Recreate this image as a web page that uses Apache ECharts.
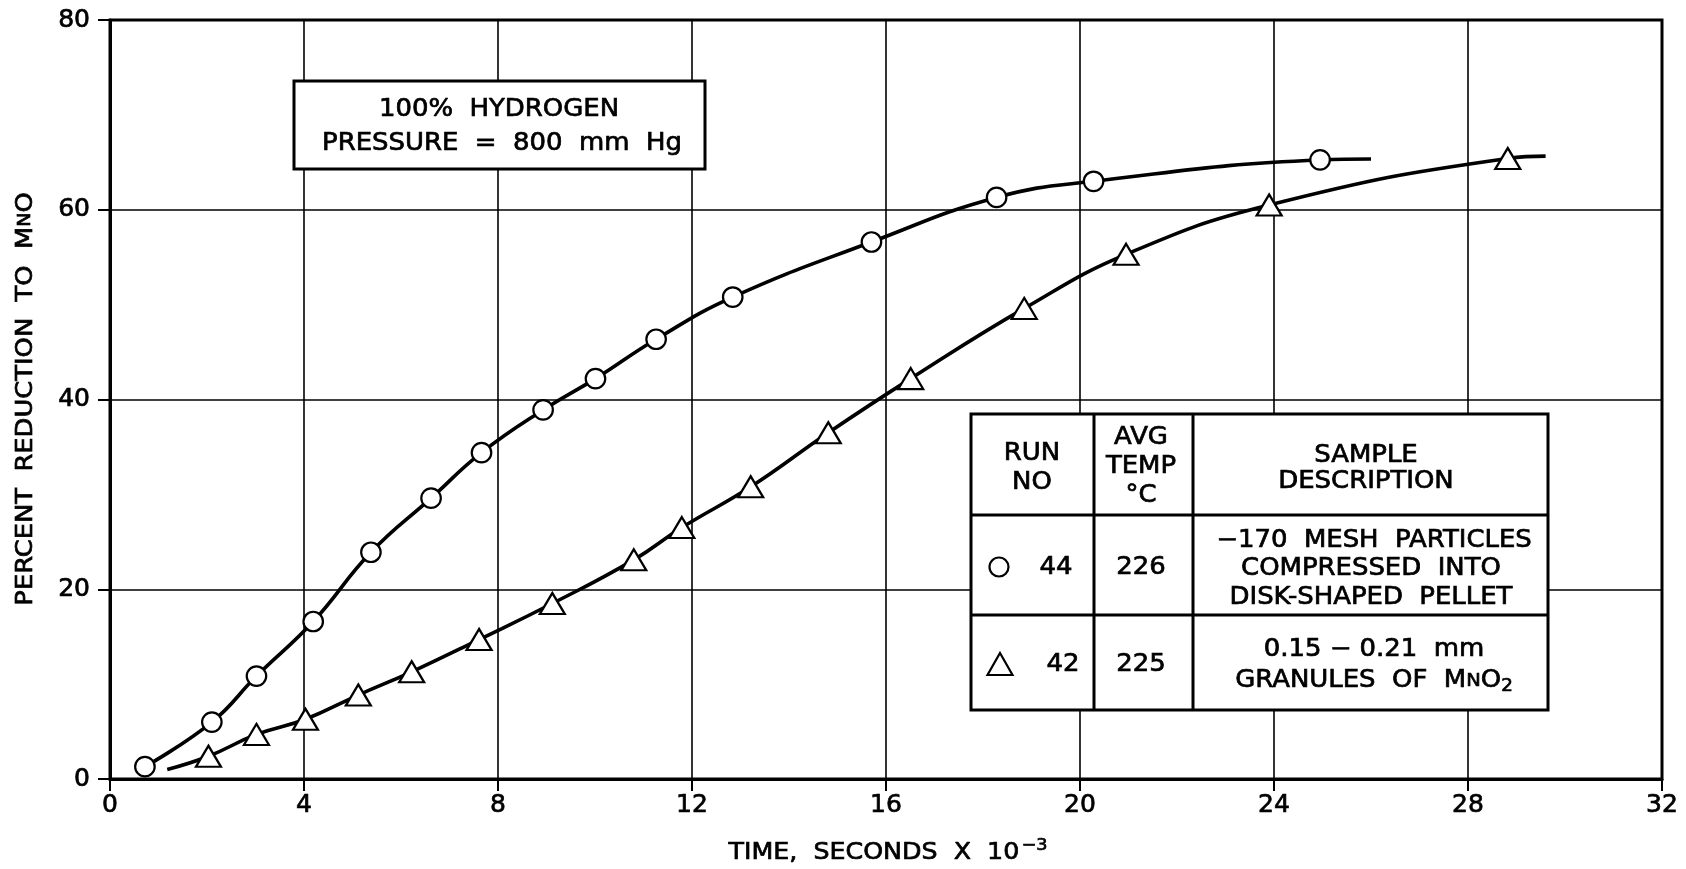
<!DOCTYPE html>
<html>
<head>
<meta charset="utf-8">
<script src="https://cdn.jsdelivr.net/npm/echarts@6/dist/echarts.min.js"></script>
<style>
  html, body { margin: 0; padding: 0; background: #ffffff; }
  #chart { width: 1686px; height: 869px; }
</style>
</head>
<body>
<div id="chart"></div>
<script>
const FONT = '"DejaVu Sans", "Liberation Sans", sans-serif';

// Run 44: time (seconds x 10^-3) and percent reduction to MnO
const run44Time = [0.72, 2.10, 3.02, 4.19, 5.38, 6.62, 7.66, 8.93, 10.01, 11.26, 12.84, 15.70, 18.28, 20.28, 24.95];
const run44Reduction = [1.3, 6.0, 10.85, 16.6, 23.9, 29.6, 34.4, 38.9, 42.2, 46.35, 50.8, 56.6, 61.3, 63.0, 65.25];
// where the faired curve for run 44 ends past its last point
const run44CurveTail = [26.0, 65.35];

// Run 42: time (seconds x 10^-3) and percent reduction to MnO
const run42Time = [2.03, 3.02, 4.03, 5.12, 6.22, 7.61, 9.12, 10.8, 11.79, 13.21, 14.81, 16.51, 18.85, 20.95, 23.9, 28.82];
const run42Reduction = [2.4, 4.7, 6.3, 8.85, 11.3, 14.7, 18.5, 23.1, 26.5, 30.8, 36.5, 42.2, 49.6, 55.3, 60.5, 65.4];
// faired curve for run 42 starts before its first point and runs past its last
const run42CurveHead = [1.18, 1.0];
const run42CurveTail = [29.6, 65.65];

// Axis ranges and steps
const xRange = [0, 32], xStep = 4;
const yRange = [0, 80], yStep = 20;

// Text blocks
const conditionLines = ['100%  HYDROGEN', 'PRESSURE  =  800  mm  Hg'];
const tableHeaders = [['RUN', 'NO'], ['AVG', 'TEMP', '°C'], ['SAMPLE', 'DESCRIPTION']];
const runNumbers = ['44', '42'];
const avgTemps = ['226', '225'];
const sampleText = [
  ['−170  MESH  PARTICLES', 'COMPRESSED  INTO', 'DISK-SHAPED  PELLET'],
  ['0.15 − 0.21  mm', 'GRANULES  OF  {c|M}{n|N}{c|O}{s|2}']
];

const pairs = (xs, ys) => xs.map((x, i) => [x, ys[i]]);
const run44Points = pairs(run44Time, run44Reduction);
const run42Points = pairs(run42Time, run42Reduction);
const run44Curve = run44Points.concat([run44CurveTail]);
const run42Curve = [run42CurveHead].concat(run42Points, [run42CurveTail]);

const chart = echarts.init(document.getElementById('chart'));

const black = '#000000';
const SX = 1.08;     // wide drafting lettering
const INK = 0.7;     // extra stroke for heavier lettering

function label(text, x, y, opts) {
  opts = opts || {};
  const size = opts.size || 24;
  const tok = (fs, extra) => Object.assign({
    fontSize: fs, fontFamily: FONT, fill: black, stroke: black, lineWidth: INK
  }, extra || {});
  return {
    type: 'text', x: x, y: y, z: 20,
    scaleX: opts.scaleX || SX,
    rotation: opts.rotation || 0,
    style: {
      text: text,
      fill: black,
      stroke: black,
      lineWidth: INK,
      font: size + 'px ' + FONT,
      align: 'center',
      verticalAlign: 'middle',
      rich: {
        c: tok(size),
        n: tok(Math.round(size * 0.74)),
        s: tok(Math.round(size * 0.7), { padding: [12, 0, 0, 0] }),
        t: tok(size),
        p: tok(Math.round(size * 0.68), { padding: [0, 0, 14, 2] })
      }
    }
  };
}

const graphics = [];

// conditions box
graphics.push({
  type: 'rect', z: 15,
  shape: { x: 294, y: 81, width: 411, height: 88 },
  style: { fill: '#ffffff', stroke: black, lineWidth: 3 }
});
graphics.push(label(conditionLines[0], 499, 110));
graphics.push(label(conditionLines[1], 502, 144));

// run table
const T = { left: 971, right: 1548, top: 414, bottom: 710, col1: 1094, col2: 1193, row1: 515, row2: 615 };
graphics.push({
  type: 'rect', z: 15,
  shape: { x: T.left, y: T.top, width: T.right - T.left, height: T.bottom - T.top },
  style: { fill: '#ffffff', stroke: black, lineWidth: 3 }
});
[T.col1, T.col2].forEach(cx => graphics.push({
  type: 'line', z: 16, shape: { x1: cx, y1: T.top, x2: cx, y2: T.bottom },
  style: { stroke: black, lineWidth: 3 }
}));
[T.row1, T.row2].forEach(ry => graphics.push({
  type: 'line', z: 16, shape: { x1: T.left, y1: ry, x2: T.right, y2: ry },
  style: { stroke: black, lineWidth: 3 }
}));

graphics.push(label(tableHeaders[0][0], 1032, 454));
graphics.push(label(tableHeaders[0][1], 1032, 483));
graphics.push(label(tableHeaders[1][0], 1141, 438));
graphics.push(label(tableHeaders[1][1], 1141, 467));
graphics.push(label(tableHeaders[1][2], 1141, 496));
graphics.push(label(tableHeaders[2][0], 1366, 456));
graphics.push(label(tableHeaders[2][1], 1366, 482));

graphics.push({
  type: 'circle', z: 20, shape: { cx: 999, cy: 567, r: 9.5 },
  style: { fill: '#ffffff', stroke: black, lineWidth: 2.2 }
});
graphics.push(label(runNumbers[0], 1056, 568));
graphics.push(label(avgTemps[0], 1141, 568));
graphics.push(label(sampleText[0][0], 1374, 541));
graphics.push(label(sampleText[0][1], 1371, 569));
graphics.push(label(sampleText[0][2], 1371, 598));

graphics.push({
  type: 'polygon', z: 20, shape: { points: [[1000, 653], [1012.5, 675], [987.5, 675]] },
  style: { fill: '#ffffff', stroke: black, lineWidth: 2.2 }
});
graphics.push(label(runNumbers[1], 1063, 665));
graphics.push(label(avgTemps[1], 1141, 665));
graphics.push(label(sampleText[1][0], 1374, 650));
graphics.push(label(sampleText[1][1], 1374, 681));

// axis titles
graphics.push(label('{t|TIME,  SECONDS  X  10}{p|−3}', 888, 853, { size: 23, scaleX: 1.1 }));
graphics.push(label('{t|PERCENT  REDUCTION  TO  }{c|M}{n|N}{c|O}', 26, 399, { size: 23, scaleX: 1.12, rotation: Math.PI / 2 }));

const axisCommon = {
  type: 'value',
  axisLine: { show: true, lineStyle: { color: black, width: 3 } },
  axisTick: { show: true, inside: false, length: 12, lineStyle: { color: black, width: 2 } },
  splitLine: { show: true, lineStyle: { color: black, width: 1.6 } },
  axisLabel: {
    color: black, fontFamily: FONT, fontSize: 25,
    textBorderColor: black, textBorderWidth: 0.7
  }
};

chart.setOption({
  animation: false,
  backgroundColor: '#ffffff',
  grid: {
    left: 110, right: 24, top: 20, bottom: 90,
    show: true, borderColor: black, borderWidth: 3, backgroundColor: 'transparent'
  },
  xAxis: Object.assign({}, axisCommon, {
    min: xRange[0], max: xRange[1], interval: xStep,
    axisLabel: Object.assign({}, axisCommon.axisLabel, { margin: 14 })
  }),
  yAxis: Object.assign({}, axisCommon, {
    min: yRange[0], max: yRange[1], interval: yStep,
    axisLabel: Object.assign({}, axisCommon.axisLabel, { margin: 20 })
  }),
  graphic: graphics,
  series: [
    {
      name: 'Run 44 curve', type: 'line', data: run44Curve,
      smooth: 0.45, showSymbol: false, z: 3,
      lineStyle: { color: black, width: 3.6 }
    },
    {
      name: 'Run 42 curve', type: 'line', data: run42Curve,
      smooth: 0.45, showSymbol: false, z: 3,
      lineStyle: { color: black, width: 3.6 }
    },
    {
      name: 'Run 44', type: 'scatter', data: run44Points, z: 5,
      symbol: 'circle', symbolSize: 19.5,
      itemStyle: { color: '#ffffff', opacity: 1, borderColor: black, borderWidth: 2.2 }
    },
    {
      name: 'Run 42', type: 'scatter', data: run42Points, z: 5,
      symbol: 'triangle', symbolSize: [25, 21],
      itemStyle: { color: '#ffffff', opacity: 1, borderColor: black, borderWidth: 2.2 }
    }
  ]
});
</script>
</body>
</html>
